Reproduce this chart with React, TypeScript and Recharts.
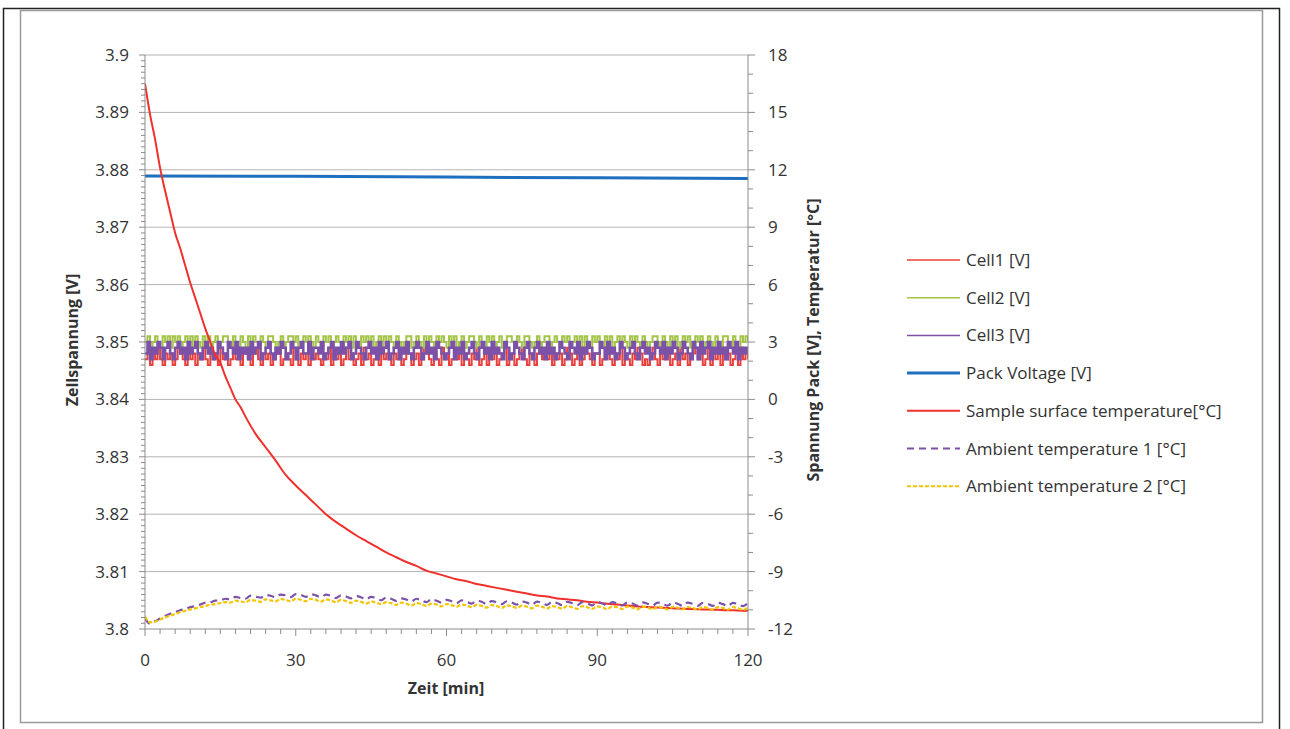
import React from "react"
import { LineChart, Line, XAxis, YAxis, ReferenceLine } from "recharts"

// Cell voltages, sampled every 0.5 min, in mV above 3.840 V
const CELL1_MV = [
  7, 8, 6, 8, 7, 9, 7, 6, 8, 7, 8, 6, 7, 9, 8, 7, 6, 8, 7, 8,
  6, 8, 7, 9, 7, 6, 8, 7, 8, 6, 9, 7, 8, 6, 7, 8, 7, 9, 6, 8,
  8, 7, 6, 8, 9, 7, 6, 8, 7, 8, 6, 7, 9, 8, 6, 7, 8, 7, 6, 9,
  7, 6, 8, 7, 8, 6, 9, 7, 8, 7, 6, 8, 7, 9, 6, 8, 7, 8, 6, 7,
  9, 7, 8, 6, 7, 8, 6, 9, 7, 8, 6, 7, 8, 6, 9, 7, 8, 7, 6, 8,
  7, 8, 6, 7, 9, 8, 6, 7, 8, 6, 7, 9, 8, 7, 6, 8, 7, 6, 9, 7,
  8, 6, 7, 8, 7, 9, 6, 8, 7, 6, 8, 7, 9, 6, 7, 8, 6, 8, 7, 9,
  6, 7, 8, 9, 6, 7, 8, 6, 7, 8, 9, 7, 6, 8, 7, 6, 8, 9, 7, 8,
  7, 9, 6, 8, 7, 8, 6, 7, 9, 8, 6, 7, 8, 6, 7, 9, 8, 7, 6, 8,
  8, 6, 7, 9, 8, 7, 6, 8, 7, 9, 6, 8, 7, 6, 8, 7, 9, 8, 6, 7,
  6, 8, 9, 7, 6, 8, 7, 9, 8, 6, 7, 8, 6, 9, 7, 8, 6, 7, 8, 9,
  7, 8, 6, 7, 9, 6, 8, 7, 8, 6, 9, 7, 8, 6, 7, 8, 6, 9, 7, 8,
  7,
]

const CELL2_MV = [
  10, 11, 9, 10, 11, 10, 9, 11, 10, 11, 9, 11, 10, 11, 9, 10, 11, 10, 11, 9,
  11, 10, 9, 11, 10, 11, 9, 10, 11, 9, 10, 11, 11, 10, 9, 11, 10, 9, 11, 10,
  9, 11, 10, 11, 10, 9, 11, 10, 9, 11, 11, 10, 9, 10, 11, 9, 10, 11, 11, 10,
  11, 9, 10, 11, 10, 11, 10, 9, 11, 10, 9, 11, 10, 11, 9, 10, 11, 10, 9, 11,
  10, 11, 9, 11, 10, 9, 11, 10, 11, 10, 11, 9, 10, 11, 9, 11, 10, 11, 10, 9,
  11, 10, 9, 10, 11, 11, 9, 10, 11, 10, 9, 11, 10, 11, 10, 9, 11, 10, 11, 10,
  9, 11, 10, 11, 9, 10, 11, 9, 10, 11, 11, 10, 9, 11, 10, 9, 11, 10, 11, 9,
  10, 11, 9, 10, 11, 11, 10, 9, 11, 10, 9, 11, 11, 10, 9, 10, 11, 9, 10, 11,
  11, 9, 10, 11, 10, 9, 11, 10, 11, 9, 10, 11, 10, 11, 9, 11, 10, 9, 11, 10,
  11, 10, 9, 11, 10, 11, 9, 10, 11, 9, 11, 10, 9, 11, 10, 11, 10, 9, 11, 10,
  9, 10, 11, 11, 10, 9, 11, 10, 9, 11, 10, 11, 9, 10, 11, 10, 11, 9, 10, 11,
  10, 11, 9, 10, 11, 10, 9, 11, 10, 9, 11, 11, 10, 9, 11, 10, 9, 11, 10, 11,
  10,
]

const CELL3_MV = [
  8, 10, 7, 9, 8, 10, 9, 7, 9, 10, 8, 7, 9, 10, 8, 9, 7, 10, 8, 9,
  10, 8, 7, 9, 10, 8, 9, 7, 8, 10, 9, 8, 7, 10, 9, 8, 10, 7, 9, 8,
  9, 7, 10, 8, 9, 10, 7, 8, 9, 10, 8, 7, 9, 8, 10, 9, 7, 8, 10, 9,
  7, 9, 10, 8, 8, 10, 7, 9, 9, 8, 10, 7, 8, 9, 10, 7, 9, 8, 10, 8,
  9, 10, 7, 8, 10, 9, 8, 7, 9, 10, 8, 9, 7, 10, 8, 9, 10, 7, 8, 9,
  10, 7, 9, 8, 10, 8, 7, 9, 10, 9, 7, 8, 10, 8, 9, 7, 10, 9, 8, 7,
  8, 9, 10, 7, 9, 8, 10, 7, 8, 9, 10, 8, 7, 9, 10, 8, 9, 7, 10, 8,
  9, 8, 7, 10, 9, 7, 8, 10, 9, 8, 7, 9, 10, 8, 7, 9, 10, 8, 9, 7,
  10, 8, 9, 7, 8, 10, 9, 8, 7, 10, 9, 8, 10, 7, 9, 8, 10, 9, 7, 8,
  8, 10, 9, 7, 10, 8, 9, 7, 8, 10, 9, 7, 8, 9, 10, 8, 7, 9, 10, 8,
  9, 7, 8, 10, 9, 8, 10, 7, 9, 8, 10, 9, 7, 8, 10, 9, 8, 7, 10, 9,
  7, 10, 8, 9, 10, 7, 9, 8, 10, 8, 9, 7, 10, 9, 8, 10, 7, 9, 8, 9,
  8,
]

// Pack voltage [V]
const PACK_T = [0, 30, 60, 90, 120]
const PACK_V = [11.68, 11.66, 11.62, 11.58, 11.55]

// Sample surface temperature [°C]
const SURFACE_T = [
  0, 1, 2, 3, 4, 5, 6, 7, 8, 9, 10, 11, 12, 13, 14, 15, 16, 17, 18, 19, 20,
  22, 24, 26, 28, 30, 32, 34, 36, 38, 40, 42, 44, 46, 48, 50, 52, 54, 56, 58, 60,
  62, 64, 66, 68, 70, 72, 74, 76, 78, 80, 82, 84, 86, 88, 90, 92, 94, 96, 98, 100,
  102, 104, 106, 108, 110, 112, 114, 116, 118, 120,
]
const SURFACE_C = [
  16.5, 14.9, 13.6, 12.1, 10.9, 9.8, 8.7, 7.9, 7.0, 6.1, 5.3, 4.5, 3.7, 3.0, 2.3, 1.9, 1.2, 0.6, 0.0, -0.4, -0.9,
  -1.8, -2.5, -3.2, -3.95, -4.5, -5.0, -5.5, -6.0, -6.4, -6.75, -7.1, -7.4, -7.7, -8.0, -8.25, -8.5, -8.7, -8.95, -9.1, -9.25,
  -9.4, -9.5, -9.65, -9.75, -9.85, -9.95, -10.05, -10.15, -10.25, -10.3, -10.4, -10.45, -10.5, -10.58, -10.62, -10.68, -10.72, -10.77, -10.82, -10.85,
  -10.88, -10.9, -10.93, -10.95, -10.97, -10.98, -11.0, -11.02, -11.03, -11.05,
]

// Ambient temperatures [°C], one reading per minute
const AMBIENT1_C = [
  -11.45, -11.72, -11.6, -11.45, -11.32, -11.2, -11.12, -11.02, -10.95, -10.86,
  -10.8, -10.72, -10.62, -10.6, -10.52, -10.5, -10.42, -10.45, -10.32, -10.38,
  -10.42, -10.26, -10.3, -10.36, -10.22, -10.26, -10.34, -10.2, -10.24, -10.33,
  -10.18, -10.22, -10.32, -10.18, -10.24, -10.34, -10.2, -10.27, -10.38, -10.24,
  -10.3, -10.4, -10.28, -10.34, -10.45, -10.32, -10.38, -10.5, -10.36, -10.42,
  -10.53, -10.4, -10.46, -10.56, -10.42, -10.5, -10.6, -10.45, -10.52, -10.62,
  -10.48, -10.55, -10.65, -10.5, -10.57, -10.67, -10.52, -10.58, -10.7, -10.54,
  -10.6, -10.7, -10.55, -10.62, -10.72, -10.56, -10.62, -10.73, -10.57, -10.64,
  -10.74, -10.58, -10.64, -10.75, -10.58, -10.65, -10.76, -10.6, -10.66, -10.76,
  -10.6, -10.66, -10.77, -10.6, -10.67, -10.77, -10.61, -10.67, -10.78, -10.61,
  -10.68, -10.78, -10.62, -10.68, -10.78, -10.62, -10.68, -10.79, -10.62, -10.69,
  -10.79, -10.63, -10.69, -10.79, -10.63, -10.7, -10.8, -10.63, -10.7, -10.8,
  -10.64,
]

const AMBIENT2_C = [
  -11.35, -11.65, -11.62, -11.5, -11.4, -11.3, -11.22, -11.12, -11.05, -10.98,
  -10.92, -10.85, -10.8, -10.72, -10.7, -10.64, -10.6, -10.62, -10.52, -10.56,
  -10.6, -10.48, -10.52, -10.58, -10.45, -10.5, -10.56, -10.43, -10.48, -10.55,
  -10.42, -10.47, -10.55, -10.43, -10.48, -10.57, -10.45, -10.5, -10.6, -10.48,
  -10.54, -10.63, -10.52, -10.58, -10.67, -10.56, -10.62, -10.7, -10.6, -10.65,
  -10.74, -10.62, -10.68, -10.77, -10.65, -10.7, -10.8, -10.67, -10.72, -10.82,
  -10.7, -10.75, -10.84, -10.72, -10.77, -10.86, -10.74, -10.79, -10.88, -10.75,
  -10.8, -10.9, -10.76, -10.82, -10.9, -10.78, -10.83, -10.92, -10.78, -10.84,
  -10.93, -10.8, -10.85, -10.94, -10.8, -10.86, -10.95, -10.81, -10.86, -10.95,
  -10.82, -10.87, -10.96, -10.82, -10.87, -10.96, -10.83, -10.88, -10.97, -10.83,
  -10.88, -10.97, -10.84, -10.89, -10.98, -10.84, -10.89, -10.98, -10.85, -10.9,
  -10.98, -10.85, -10.9, -10.99, -10.86, -10.9, -10.99, -10.86, -10.91, -11.0,
  -10.87,
]

// Axis ticks
const LEFT_MAJOR = [3.8, 3.81, 3.82, 3.83, 3.84, 3.85, 3.86, 3.87, 3.88, 3.89, 3.9]
const RIGHT_MAJOR = [-12, -9, -6, -3, 0, 3, 6, 9, 12, 15, 18]
const X_MAJOR = [0, 30, 60, 90, 120]

const LEFT_TICKS = Array.from({ length: 101 }, (_, i) => +(3.8 + i * 0.001).toFixed(3))
const RIGHT_TICKS = Array.from({ length: 31 }, (_, i) => -12 + i)
const X_TICKS = Array.from({ length: 41 }, (_, i) => i * 3)

const cell = (mv: number[]) => mv.map((d, i) => ({ t: i * 0.5, v: 3.84 + d / 1000 }))
const series = (ts: number[], vs: number[]) => ts.map((t, i) => ({ t, v: vs[i] }))
const perMinute = (vs: number[]) => vs.map((v, i) => ({ t: i, v }))

const cell1 = cell(CELL1_MV)
const cell2 = cell(CELL2_MV)
const cell3 = cell(CELL3_MV)
const pack = series(PACK_T, PACK_V)
const surface = series(SURFACE_T, SURFACE_C)
const ambient1 = perMinute(AMBIENT1_C)
const ambient2 = perMinute(AMBIENT2_C)

const FONT = '"Open Sans", "Noto Sans", sans-serif'
const AXIS = "#8c8c8c"
const TEXT = "#333"

const isMajor = (list: number[], v: number) => list.some((m) => Math.abs(m - v) < 1e-6)

function LeftTick({ x, y, payload }: any) {
  const major = isMajor(LEFT_MAJOR, payload.value)
  return (
    <g>
      <line x1={x - (major ? 6 : 4)} x2={x} y1={y} y2={y} stroke={AXIS} />
      {major && (
        <text x={x - 16} y={y + 6} textAnchor="end" fontSize={17} fontFamily={FONT} fill={TEXT}>
          {String(+payload.value.toFixed(2))}
        </text>
      )}
    </g>
  )
}

function RightTick({ x, y, payload }: any) {
  const major = isMajor(RIGHT_MAJOR, payload.value)
  return (
    <g>
      <line x1={x} x2={x + (major ? 7 : 5)} y1={y} y2={y} stroke={AXIS} />
      {major && (
        <text x={x + 20} y={y + 6} textAnchor="start" fontSize={17} fontFamily={FONT} fill={TEXT}>
          {payload.value}
        </text>
      )}
    </g>
  )
}

function BottomTick({ x, y, payload }: any) {
  const major = isMajor(X_MAJOR, payload.value)
  return (
    <g>
      <line x1={x} x2={x} y1={y} y2={y + (major ? 7 : 5)} stroke={AXIS} />
      {major && (
        <text x={x} y={y + 37} textAnchor="middle" fontSize={17} fontFamily={FONT} fill={TEXT}>
          {payload.value}
        </text>
      )}
    </g>
  )
}

const LEGEND = [
  { name: "Cell1 [V]", color: "#e8403c", width: 1.5, dash: undefined },
  { name: "Cell2 [V]", color: "#a3c447", width: 1.5, dash: undefined },
  { name: "Cell3 [V]", color: "#7b52a8", width: 1.5, dash: undefined },
  { name: "Pack Voltage [V]", color: "#1f6fbf", width: 3, dash: undefined },
  { name: "Sample surface temperature[°C]", color: "#f0302a", width: 2, dash: undefined },
  { name: "Ambient temperature 1 [°C]", color: "#7b52a8", width: 2, dash: "7 5" },
  { name: "Ambient temperature 2 [°C]", color: "#f5c400", width: 2, dash: "4 2" },
]

function Overlay() {
  return (
    <svg width={1290} height={729} style={{ position: "absolute", left: 0, top: 0, pointerEvents: "none" }}>
      <rect x={3.5} y={8.5} width={1276} height={730} fill="none" stroke="#222" strokeWidth={1.5} />
      <rect x={20.5} y={10.5} width={1242} height={712} fill="none" stroke="#9a9a9a" strokeWidth={1.5} />
      <text
        transform="translate(78 340) rotate(-90)"
        textAnchor="middle"
        fontSize={16}
        fontWeight="bold"
        fontFamily={FONT}
        fill={TEXT}
      >
        Zellspannung [V]
      </text>
      <text
        transform="translate(819 340) rotate(-90)"
        textAnchor="middle"
        fontSize={16}
        fontWeight="bold"
        fontFamily={FONT}
        fill={TEXT}
      >
        Spannung Pack [V], Temperatur [°C]
      </text>
      <text x={446} y={694} textAnchor="middle" fontSize={16} fontWeight="bold" fontFamily={FONT} fill={TEXT}>
        Zeit [min]
      </text>
      {LEGEND.map((item, i) => {
        const y = 260 + i * 37.7
        return (
          <g key={item.name}>
            <line x1={907} x2={960} y1={y} y2={y} stroke={item.color} strokeWidth={item.width} strokeDasharray={item.dash} />
            <text x={966} y={y + 6} fontSize={17} fontFamily={FONT} fill={TEXT}>
              {item.name}
            </text>
          </g>
        )
      })}
    </svg>
  )
}

export default function App() {
  return (
    <div style={{ position: "absolute", left: 0, top: 0, width: 1290, height: 729, background: "#fff" }}>
      <LineChart width={1290} height={729} margin={{ top: 55, right: 442, bottom: 40, left: 45 }}>
        <XAxis
          xAxisId="x"
          type="number"
          dataKey="t"
          domain={[0, 120]}
          ticks={X_TICKS}
          interval={0}
          height={60}
          tickSize={0}
          tickMargin={0}
          tickLine={false}
          tick={BottomTick}
          axisLine={{ stroke: AXIS }}
          allowDataOverflow
        />
        <YAxis
          yAxisId="left"
          orientation="left"
          type="number"
          domain={[3.8, 3.9]}
          ticks={LEFT_TICKS}
          interval={0}
          width={100}
          tickSize={0}
          tickMargin={0}
          tickLine={false}
          tick={LeftTick}
          axisLine={{ stroke: AXIS }}
          allowDataOverflow
        />
        <YAxis
          yAxisId="right"
          orientation="right"
          type="number"
          domain={[-12, 18]}
          ticks={RIGHT_TICKS}
          interval={0}
          width={100}
          tickSize={0}
          tickMargin={0}
          tickLine={false}
          tick={RightTick}
          axisLine={{ stroke: AXIS }}
          allowDataOverflow
        />
        {LEFT_MAJOR.slice(1).map((v) => (
          <ReferenceLine key={v} xAxisId="x" yAxisId="left" y={v} stroke="#b4b4b4" strokeWidth={1} />
        ))}
        <Line xAxisId="x" yAxisId="left" data={cell1} dataKey="v" type="stepAfter" stroke="#e8403c" strokeWidth={2} dot={false} isAnimationActive={false} />
        <Line xAxisId="x" yAxisId="left" data={cell2} dataKey="v" type="stepAfter" stroke="#a3c447" strokeWidth={2} dot={false} isAnimationActive={false} />
        <Line xAxisId="x" yAxisId="left" data={cell3} dataKey="v" type="stepAfter" stroke="#7b52a8" strokeWidth={2.6} dot={false} isAnimationActive={false} />
        <Line xAxisId="x" yAxisId="right" data={pack} dataKey="v" type="linear" stroke="#1f6fbf" strokeWidth={3} dot={false} isAnimationActive={false} />
        <Line xAxisId="x" yAxisId="right" data={surface} dataKey="v" type="monotone" stroke="#f0302a" strokeWidth={2} dot={false} isAnimationActive={false} />
        <Line xAxisId="x" yAxisId="right" data={ambient1} dataKey="v" type="monotone" stroke="#7b52a8" strokeWidth={2.2} strokeDasharray="7 5" dot={false} isAnimationActive={false} />
        <Line xAxisId="x" yAxisId="right" data={ambient2} dataKey="v" type="monotone" stroke="#f5c400" strokeWidth={2.2} strokeDasharray="4 2" dot={false} isAnimationActive={false} />
      </LineChart>
      <Overlay />
    </div>
  )
}
